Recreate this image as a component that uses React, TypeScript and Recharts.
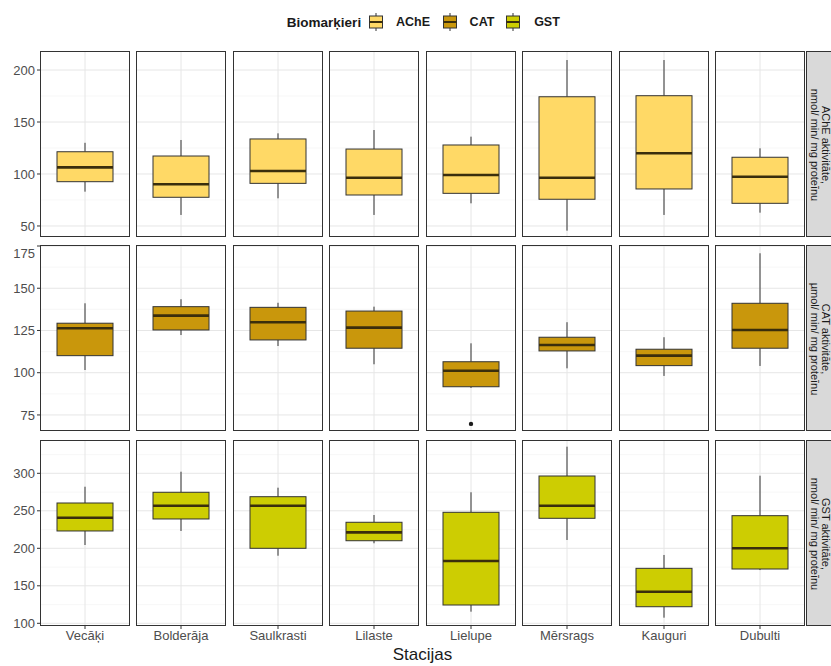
import React from 'react';
import { ComposedChart, Bar, Scatter, XAxis, YAxis, CartesianGrid } from 'recharts';

// Stations along the x axis, one facet column each
const stations = ['Vecāķi', 'Bolderāja', 'Saulkrasti', 'Lilaste', 'Lielupe', 'Mērsrags', 'Kauguri', 'Dubulti'];

// Box stats per station: [lower whisker, Q1, median, Q3, upper whisker]
const acheStats = [
    [83, 92.6, 106.4, 121.4, 130],
    [60.6, 77.6, 90.1, 117.3, 132.7],
    [76.6, 91, 102.9, 133.7, 139.1],
    [60.6, 79.8, 96.4, 124, 142.3],
    [71.8, 81.4, 99, 127.9, 135.9],
    [45.5, 75.7, 96.4, 174.3, 209.6],
    [60.6, 85.6, 119.9, 175.3, 209.6],
    [62.8, 71.8, 97.4, 116.1, 124.7],
];
const catStats = [
    [101.6, 110.1, 126.3, 129.3, 141.1],
    [122.3, 125.3, 133.8, 139.1, 143.5],
    [115.8, 119.4, 129.9, 138.7, 141.4],
    [105, 114.5, 126.7, 136.5, 139.1],
    [91, 91.7, 101.2, 106.5, 117.4],
    [102.6, 112.9, 116.4, 121, 129.9],
    [98.1, 104.2, 110.1, 113.9, 121],
    [104, 114.5, 125.3, 141.1, 170.7],
];
const gstStats = [
    [204.4, 223.1, 240.8, 260.4, 282.1],
    [223.1, 239.1, 256.8, 274.7, 302.1],
    [190.1, 200, 256.8, 268.8, 280.8],
    [206.7, 210.1, 221.3, 234.7, 244.4],
    [115.5, 124.4, 183.1, 248, 274.7],
    [211.1, 240, 256.8, 296.4, 335.5],
    [107.5, 122.1, 142.1, 173.3, 191.1],
    [171, 172.4, 200, 243.5, 296.8],
];
// Outliers (station index -> values)
const catOutliers: Record<number, number[]> = { 4: [69.7] };

const acheTicks = [50, 100, 150, 200];
const acheMinor = [75, 125, 175];
const catTicks = [75, 100, 125, 150, 175];
const catMinor = [87.5, 112.5, 137.5, 162.5];
const gstTicks = [100, 150, 200, 250, 300];
const gstMinor = [125, 175, 225, 275, 325];

const acheDomain = [39.4, 218.3];
const catDomain = [65.5, 175.6];
const gstDomain = [96.4, 344.4];

const rows = [
    {
        key: 'AChE', color: '#FFD966', stats: acheStats, outliers: {} as Record<number, number[]>,
        ticks: acheTicks, minor: acheMinor, domain: acheDomain,
        strip: ['AChE aktivitāte,', 'nmol/ min/ mg proteīnu'],
    },
    {
        key: 'CAT', color: '#C9970C', stats: catStats, outliers: catOutliers,
        ticks: catTicks, minor: catMinor, domain: catDomain,
        strip: ['CAT aktivitāte,', 'µmol/ min/ mg proteīnu'],
    },
    {
        key: 'GST', color: '#CDCD02', stats: gstStats, outliers: {} as Record<number, number[]>,
        ticks: gstTicks, minor: gstMinor, domain: gstDomain,
        strip: ['GST aktivitāte,', 'nmol/ min/ mg proteīnu'],
    },
];

const LEFT0 = 40;
const PITCH_X = 96.43;
const PANEL_W = 90;
const PANEL_H = 186;
const ROW_TOPS = [51, 245, 440];
const Y_AXIS_W = 40;
const X_AXIS_H = 26;
const INK = '#333333';
const TEXT = '#4d4d4d';

const BoxShape = (props: any) => {
    const { x, y, width, height, fill } = props;
    const p = props.payload ?? props;
    const [lo, q1, med, q3, hi] = p.stats;
    const top = Math.min(y, y + height);
    const k = Math.abs(height) / (hi - lo);
    const yOf = (v: number) => top + (hi - v) * k;
    const cx = x + width / 2;
    return (
        <g>
            <line x1={cx} x2={cx} y1={yOf(hi)} y2={yOf(q3)} stroke={INK} strokeWidth={1} />
            <line x1={cx} x2={cx} y1={yOf(q1)} y2={yOf(lo)} stroke={INK} strokeWidth={1} />
            <rect x={x} y={yOf(q3)} width={width} height={yOf(q1) - yOf(q3)} fill={fill} stroke={INK} strokeWidth={1} />
            <line x1={x} x2={x + width} y1={yOf(med)} y2={yOf(med)} stroke="#3a2e0c" strokeWidth={2.6} />
        </g>
    );
};

const OutlierDot = (props: any) => <circle cx={props.cx} cy={props.cy} r={2.2} fill="#1a1a1a" />;

const Panel = ({ row, rowIdx, col }: { row: any; rowIdx: number; col: number }) => {
    const first = col === 0;
    const bottom = rowIdx === rows.length - 1;
    const s = row.stats[col];
    const outs: number[] = row.outliers[col] || [];
    const data = [{ station: stations[col], range: [s[0], s[4]], stats: s }];
    const outData = outs.map((v) => ({ station: stations[col], value: v }));
    const panelLeft = LEFT0 + col * PITCH_X;
    const chartLeft = first ? panelLeft - Y_AXIS_W : panelLeft;
    const w = PANEL_W + (first ? Y_AXIS_W : 0);
    const h = PANEL_H + (bottom ? X_AXIS_H : 0);
    return (
        <>
            <div style={{ position: 'absolute', left: chartLeft, top: ROW_TOPS[rowIdx] }}>
                <ComposedChart width={w} height={h} data={data} margin={{ top: 0, right: 0, bottom: 0, left: 0 }}>
                    <CartesianGrid
                        horizontal
                        vertical={false}
                        horizontalValues={row.minor}
                        stroke="#f3f3f3"
                        strokeWidth={0.7}
                    />
                    <CartesianGrid
                        horizontal
                        vertical
                        horizontalValues={row.ticks}
                        verticalCoordinatesGenerator={({ offset }: any) => [offset.left + offset.width / 2]}
                        stroke="#e6e6e6"
                        strokeWidth={1}
                    />
                    <XAxis
                        dataKey="station"
                        type="category"
                        allowDuplicatedCategory={false}
                        hide={!bottom}
                        height={X_AXIS_H}
                        interval={0}
                        axisLine={false}
                        tickLine={{ stroke: INK }}
                        tickSize={3}
                        tickMargin={2}
                        tick={{ fontSize: 13, fill: TEXT }}
                    />
                    <YAxis
                        type="number"
                        domain={row.domain}
                        ticks={row.ticks}
                        allowDataOverflow
                        hide={!first}
                        width={Y_AXIS_W}
                        axisLine={false}
                        tickLine={{ stroke: INK }}
                        tickSize={3}
                        tickMargin={2}
                        tick={{ fontSize: 13, fill: TEXT }}
                    />
                    <Bar dataKey="range" barSize={56} fill={row.color} shape={<BoxShape />} isAnimationActive={false} />
                    {outData.length > 0 && (
                        <Scatter data={outData} dataKey="value" shape={<OutlierDot />} isAnimationActive={false} />
                    )}
                </ComposedChart>
            </div>
            <div
                style={{
                    position: 'absolute',
                    left: panelLeft,
                    top: ROW_TOPS[rowIdx],
                    width: PANEL_W,
                    height: PANEL_H,
                    boxSizing: 'border-box',
                    border: `1px solid ${INK}`,
                    pointerEvents: 'none',
                }}
            />
        </>
    );
};

// Facet strip on the right, text turned to read top to bottom
const Strip = ({ lines, top }: { lines: string[]; top: number }) => (
    <svg
        width={26}
        height={PANEL_H}
        style={{ position: 'absolute', left: 806, top, background: '#d9d9d9', borderLeft: `1px solid ${INK}`, borderTop: `1px solid ${INK}`, borderBottom: `1px solid ${INK}`, boxSizing: 'border-box' }}
    >
        {lines.map((t, i) => (
            <text
                key={t}
                transform={`translate(${18.5 - i * 11}, ${PANEL_H / 2}) rotate(90)`}
                textAnchor="middle"
                dominantBaseline="central"
                fontSize={11}
                fill="#1a1a1a"
            >
                {t}
            </text>
        ))}
    </svg>
);

const LegendKey = ({ cx, color }: { cx: number; color: string }) => (
    <g>
        <line x1={cx} x2={cx} y1={13} y2={31} stroke={INK} strokeWidth={1} />
        <rect x={cx - 6.5} y={16} width={13} height={12} fill={color} stroke={INK} strokeWidth={1} />
        <line x1={cx - 6.5} x2={cx + 6.5} y1={22} y2={22} stroke="#3a2e0c" strokeWidth={2} />
    </g>
);

const legendItems = [
    { label: 'AChE', keyX: 376, textX: 413 },
    { label: 'CAT', keyX: 450, textX: 482 },
    { label: 'GST', keyX: 513, textX: 547 },
];

export default function App() {
    return (
        <div
            style={{
                position: 'absolute',
                left: 0,
                top: 0,
                width: 831,
                height: 666,
                overflow: 'hidden',
                background: '#ffffff',
                fontFamily: '"Liberation Sans", Arial, sans-serif',
            }}
        >
            <svg width={831} height={44} style={{ position: 'absolute', left: 0, top: 0 }}>
                <text x={324} y={22} textAnchor="middle" dominantBaseline="central" fontSize={13.5} fontWeight="bold" fill="#1a1a1a">
                    Biomarķieri
                </text>
                {legendItems.map((it, i) => (
                    <g key={it.label}>
                        <LegendKey cx={it.keyX} color={rows[i].color} />
                        <text x={it.textX} y={22} textAnchor="middle" dominantBaseline="central" fontSize={12.5} fontWeight="bold" fill="#1a1a1a">
                            {it.label}
                        </text>
                    </g>
                ))}
            </svg>
            {rows.map((row, r) => (
                <React.Fragment key={row.key}>
                    {stations.map((st, c) => (
                        <Panel key={st} row={row} rowIdx={r} col={c} />
                    ))}
                    <Strip lines={row.strip} top={ROW_TOPS[r]} />
                </React.Fragment>
            ))}
            <div
                style={{
                    position: 'absolute',
                    left: LEFT0,
                    width: 765,
                    top: 645,
                    textAlign: 'center',
                    fontSize: 17,
                    color: '#1a1a1a',
                }}
            >
                Stacijas
            </div>
        </div>
    );
}
